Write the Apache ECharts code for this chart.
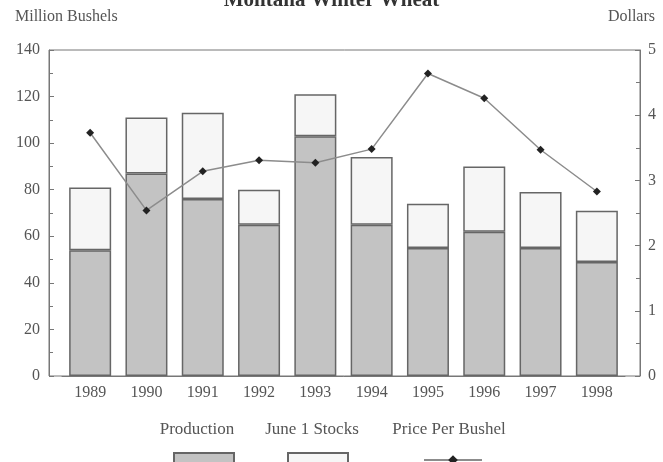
<!DOCTYPE html>
<html>
<head>
<meta charset="utf-8">
<script src="https://cdn.jsdelivr.net/npm/echarts@6/dist/echarts.min.js"></script>
<style>
  html, body { margin: 0; padding: 0; background: #fff; }
  #chart { width: 663px; height: 462px; }
</style>
</head>
<body>
<div id="chart"></div>
<script>
// values
const years = ['1989', '1990', '1991', '1992', '1993', '1994', '1995', '1996', '1997', '1998']
const production = [54, 87, 76, 65, 103, 65, 55, 62, 55, 49]
const juneStocks = [27, 24, 37, 15, 18, 29, 19, 28, 24, 22]
const price = [3.73, 2.54, 3.14, 3.31, 3.27, 3.48, 4.64, 4.26, 3.47, 2.83]

const serif = 'Liberation Serif'
const textColor = '#555'
const frameColor = '#777'
const legendFont = '17px "Liberation Serif"'

const chart = echarts.init(document.getElementById('chart'))

chart.setOption({
  animation: false,
  textStyle: { fontFamily: serif },
  title: {
    text: 'Montana Winter Wheat',
    left: 'center',
    top: -15,
    textStyle: { fontFamily: serif, fontSize: 21, fontWeight: 'bold', color: '#333' }
  },
  grid: [
    // outer frame with the value axes
    { left: 49, right: 23, top: 50, bottom: 86, show: true, borderColor: frameColor, borderWidth: 1 },
    // inner area holding the bars
    { left: 62, right: 38, top: 50, bottom: 86 }
  ],
  xAxis: [
    { gridIndex: 0, type: 'category', data: years, show: false },
    {
      gridIndex: 1,
      type: 'category',
      data: years,
      axisLine: { lineStyle: { color: frameColor } },
      axisTick: { inside: true, alignWithLabel: true, length: 6, lineStyle: { color: frameColor } },
      axisLabel: { color: textColor, fontSize: 16, margin: 9 }
    }
  ],
  yAxis: [
    {
      gridIndex: 0,
      type: 'value',
      name: 'Million Bushels',
      nameLocation: 'end',
      nameGap: 25,
      nameTextStyle: { color: textColor, fontSize: 16, align: 'left', padding: [0, 0, 0, -34] },
      min: 0, max: 140, interval: 20,
      axisLine: { show: true, lineStyle: { color: frameColor } },
      axisTick: { show: true, inside: true, length: 5, lineStyle: { color: frameColor } },
      minorTick: { show: true, splitNumber: 2, length: 4, lineStyle: { color: frameColor } },
      splitLine: { show: false },
      axisLabel: { color: textColor, fontSize: 16, margin: 9 }
    },
    {
      gridIndex: 0,
      type: 'value',
      position: 'right',
      name: 'Dollars',
      nameLocation: 'end',
      nameGap: 25,
      nameTextStyle: { color: textColor, fontSize: 16, align: 'right', padding: [0, -15, 0, 0] },
      min: 0, max: 5, interval: 1,
      axisLine: { show: true, lineStyle: { color: frameColor } },
      axisTick: { show: true, inside: true, length: 5, lineStyle: { color: frameColor } },
      minorTick: { show: true, splitNumber: 2, length: 4, lineStyle: { color: frameColor } },
      splitLine: { show: false },
      axisLabel: { color: textColor, fontSize: 16, margin: 8 }
    },
    { gridIndex: 1, type: 'value', min: 0, max: 140, show: false, splitLine: { show: false } },
    { gridIndex: 1, type: 'value', min: 0, max: 5, show: false, splitLine: { show: false } }
  ],
  legend: [
    {
      left: 168, top: 447, itemWidth: 60, itemHeight: 20, selectedMode: false, icon: 'rect',
      data: ['Production'], formatter: () => ''
    },
    {
      left: 282, top: 447, itemWidth: 60, itemHeight: 20, selectedMode: false, icon: 'rect',
      data: ['June 1 Stocks'], formatter: () => ''
    },
    {
      left: 418, top: 449, itemWidth: 58, itemHeight: 12, selectedMode: false,
      data: ['Price Per Bushel'], formatter: () => ''
    }
  ],
  // legend labels sit above the swatches in the original
  graphic: [
    { type: 'text', x: 197, y: 421, style: { text: 'Production', font: legendFont, fill: textColor, align: 'center' } },
    { type: 'text', x: 312, y: 421, style: { text: 'June 1 Stocks', font: legendFont, fill: textColor, align: 'center' } },
    { type: 'text', x: 449, y: 421, style: { text: 'Price Per Bushel', font: legendFont, fill: textColor, align: 'center' } }
  ],
  series: [
    {
      name: 'Production',
      type: 'bar',
      xAxisIndex: 1,
      yAxisIndex: 2,
      stack: 'wheat',
      barWidth: 42,
      data: production,
      itemStyle: { color: '#c3c3c3', borderColor: '#666', borderWidth: 1.5 }
    },
    {
      name: 'June 1 Stocks',
      type: 'bar',
      xAxisIndex: 1,
      yAxisIndex: 2,
      stack: 'wheat',
      barWidth: 42,
      data: juneStocks,
      itemStyle: { color: '#f6f6f6', borderColor: '#666', borderWidth: 1.5 }
    },
    {
      name: 'Price Per Bushel',
      type: 'line',
      xAxisIndex: 1,
      yAxisIndex: 3,
      z: 5,
      data: price,
      symbol: 'diamond',
      symbolSize: 8,
      lineStyle: { color: '#8c8c8c', width: 1.5 },
      itemStyle: { color: '#222' }
    }
  ]
})
</script>
</body>
</html>
